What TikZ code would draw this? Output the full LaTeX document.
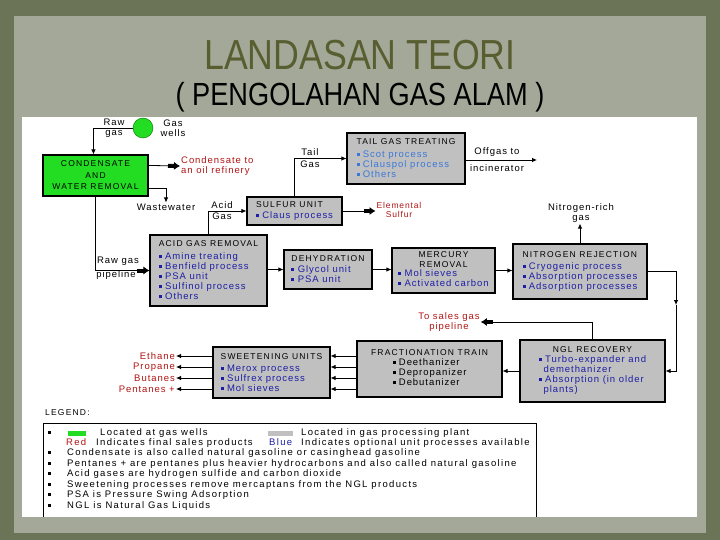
\documentclass[tikz,border=0pt]{standalone}
\usepackage{fontspec}
\setmainfont{Liberation Sans}
\newfontfamily\itemfam[LetterSpace=10]{Liberation Sans}
\newfontfamily\legfam[LetterSpace=14]{Liberation Sans}
\newfontfamily\capsfam[LetterSpace=14]{Liberation Sans}
\newfontfamily\titlefam[FakeStretch=0.85]{Liberation Sans}
\usetikzlibrary{arrows.meta}
\usetikzlibrary{positioning}
\definecolor{slideouter}{RGB}{108,116,88}
\definecolor{slidepaper}{RGB}{163,168,152}
\definecolor{titleolive}{RGB}{88,94,48}
\definecolor{unitgray}{RGB}{192,192,192}
\definecolor{wellgreen}{RGB}{34,221,34}
\definecolor{prodred}{RGB}{178,20,20}
\definecolor{optblue}{RGB}{30,30,165}
\definecolor{tailblue}{RGB}{60,120,215}
\newcommand{\itemsz}{\itemfam\fontsize{9.5}{10}\selectfont}
\newcommand{\legsz}{\legfam\fontsize{9.5}{10}\selectfont}
\newcommand{\capsz}{\capsfam\fontsize{8.5}{10}\selectfont}
\newcommand{\ut}[1]{{\capsz\color{black}#1}}
\newcommand{\bul}{\rule[0.15em]{0.32em}{0.32em}\hspace{0.35em}}
\newcommand{\itemlist}[1]{\begin{tabular}{@{}l@{}}#1\end{tabular}}
\tikzset{
    unitbox/.style = {draw=black, line width=1.1pt, fill=unitgray, inner sep=2.5pt, font=\itemsz, text=optblue},
    unitl/.style = {unitbox, align=left},
    unitc/.style = {unitbox, align=center},
    flow/.style = {line width=0.8pt, -{Latex[length=5pt,width=4.5pt]}},
    outflow/.style = {line width=0.8pt, -{Rectangle[length=6pt,width=4pt] Latex[length=6pt,width=8pt]}},
    plain/.style = {font=\itemsz, inner sep=1pt, align=center},
    product/.style = {plain, text=prodred},
    legend/.style = {font=\legsz, inner sep=0pt, anchor=west, text height=7pt, text depth=2pt}
}
\begin{document}
\begin{tikzpicture}[x=1pt,y=-1pt]
  \useasboundingbox (0,0) rectangle (720,540);
  % slide
  \fill[slideouter] (0,0) rectangle (720,540);
  \fill[slidepaper] (14,16) rectangle (706,533);
  \fill[white] (22,117) rectangle (697,517);
  \node[font=\titlefam\fontsize{42}{42}\selectfont, text=titleolive] (title) at (360,55) {LANDASAN TEORI};
  \node[font=\titlefam\fontsize{32}{32}\selectfont] (subtitle) at (360,97) {( PENGOLAHAN GAS ALAM )};

  % gas wells
  \node[circle, draw=green!45!black, fill=wellgreen, minimum size=20pt, inner sep=0pt] (wells) at (143,128) {};
  \node[plain] (rawlbl) at (114,128) {Raw\\gas};
  \node[plain] (wellslbl) at (173,128) {Gas\\wells};
  \node[unitc, fill=wellgreen, font=\capsfam\fontsize{8.5}{11.5}\selectfont, text=black,
        minimum width=105pt, minimum height=41pt] (cwr) at (95.5,175.5) {CONDENSATE\\AND\\WATER REMOVAL};
  \node[product, anchor=west, align=left] (condlbl) at (180,166) {Condensate to\\an oil refinery};
  \node[plain] (wwlbl) at (166,207) {Wastewater};
  \node[plain] (pipelbl) at (118,261) {Raw gas};
  \node[plain] (pipelbl2) at (116,275) {pipeline};

  % units
  \node[unitl, minimum width=117pt, minimum height=71pt] (agr) at (208.5,270.5)
    {\ut{ACID GAS REMOVAL}\\[3pt]\bul Amine treating\\\bul Benfield process\\\bul PSA unit\\\bul Sulfinol process\\\bul Others};
  \node[unitl, minimum width=95pt, minimum height=28pt] (sulfur) at (294.5,211)
    {\ut{SULFUR UNIT}\\[1pt]\bul Claus process};
  \node[unitl, text=tailblue, minimum width=118pt, minimum height=51pt] (tail) at (406,158.5)
    {\ut{TAIL GAS TREATING}\\[3pt]\bul Scot process\\\bul Clauspol process\\\bul Others};
  \node[unitl, minimum width=88pt, minimum height=39pt] (dehyd) at (328,269.5)
    {\ut{DEHYDRATION}\\[1pt]\bul Glycol unit\\\bul PSA unit};
  \node[unitc, minimum width=103pt, minimum height=45pt] (merc) at (443.5,270.5)
    {\ut{MERCURY}\\\ut{REMOVAL}\\\itemlist{\bul Mol sieves\\\bul Activated carbon}};
  \node[unitl, minimum width=134pt, minimum height=55pt] (nitro) at (580,271.5)
    {\ut{NITROGEN REJECTION}\\[2pt]\bul Cryogenic process\\\bul Absorption processes\\\bul Adsorption processes};
  \node[unitc, minimum width=145pt, minimum height=62pt] (ngl) at (592.5,371)
    {\ut{NGL RECOVERY}\\[2pt]\itemlist{\bul Turbo-expander and\\\hspace*{0.5em}demethanizer\\\bul Absorption (in older\\\hspace*{0.5em}plants)}};
  \node[unitc, text=black, minimum width=145pt, minimum height=56pt] (frac) at (429.5,369)
    {\ut{FRACTIONATION TRAIN}\\[1pt]\itemlist{\bul Deethanizer\\\bul Depropanizer\\\bul Debutanizer}};
  \node[unitl, minimum width=117pt, minimum height=51pt] (sweet) at (271.5,372.5)
    {\ut{SWEETENING UNITS}\\[2pt]\bul Merox process\\\bul Sulfrex process\\\bul Mol sieves};

  % labels on the streams
  \node[plain] (acidlbl) at (222,211) {Acid\\[1pt]Gas};
  \node[plain] (taillbl) at (310,158) {Tail\\[2pt]Gas};
  \node[plain] (offlbl) at (497,152) {Offgas to};
  \node[plain] (offlbl2) at (497,168) {incinerator};
  \coordinate (offend) at (537,160);
  \node[product, font=\itemfam\fontsize{8.5}{9}\selectfont] (sulfurlbl) at (399,210) {Elemental\\Sulfur};
  \node[plain] (n2lbl) at (581,213) {Nitrogen-rich\\gas};
  \node[product] (saleslbl) at (449,322) {To sales gas\\pipeline};
  \coordinate (nglturn) at (676,305);
  \node[product, anchor=east] (ethane) at (176,356) {Ethane};
  \node[product, anchor=east] (propane) at (176,367) {Propane};
  \node[product, anchor=east] (butanes) at (176,378) {Butanes};
  \node[product, anchor=east] (pentanes) at (176,389) {Pentanes +};

  % streams
  \draw[flow] (wells.west) -| ([xshift=51pt]cwr.north west);
  \draw[outflow] ([yshift=-11pt]cwr.north east) -- (condlbl.west |- 0,166);
  \draw[flow] ([yshift=8pt]cwr.south east) -| (wwlbl.north);
  \draw[outflow] (cwr.south) |- (agr.west);
  \draw[flow] (agr.north) |- (sulfur.west);
  \draw[flow] (sulfur.north) |- (tail.west);
  \draw[flow] (tail.east |- offend) -- (offend);
  \draw[outflow] (sulfur.east) -- (sulfurlbl.west |- sulfur.east);
  \draw[flow] (dehyd.west -| agr.east) -- (dehyd.west);
  \draw[flow] (dehyd.east) -- (dehyd.east -| merc.west);
  \draw[flow] (merc.east) -- (merc.east -| nitro.west);
  \draw[flow] (nitro.north) -- (nitro.north |- n2lbl.south);
  \draw[flow] (nitro.east) -| (nglturn);
  \draw[flow] (nglturn) |- (ngl.east);
  \draw[outflow] (ngl.north) |- (saleslbl.east);
  \draw[flow] (ngl.west) -- (ngl.west -| frac.east);
  \draw[flow] (frac.west |- ethane) -- (sweet.east |- ethane);
  \draw[flow] (frac.west |- propane) -- (sweet.east |- propane);
  \draw[flow] (frac.west |- butanes) -- (sweet.east |- butanes);
  \draw[flow] (frac.west |- pentanes) -- (sweet.east |- pentanes);
  \draw[flow] (sweet.west |- ethane) -- (ethane.east);
  \draw[flow] (sweet.west |- propane) -- (propane.east);
  \draw[flow] (sweet.west |- butanes) -- (butanes.east);
  \draw[flow] (sweet.west |- pentanes) -- (pentanes.east);

  % legend
  \node[legend, font=\capsz] (legendlbl) at (45,413) {LEGEND:};
  \draw[line width=0.8pt] (43,517) |- (536,423) -- (536,517);
  \node[legend] (lg1) at (48,433) {\bul};
  \fill[wellgreen] (68,431) rectangle (86,435.5);
  \node[legend] (lg1b) at (100,433) {Located at gas wells};
  \fill[unitgray] (268,431) rectangle (293,435.5);
  \node[legend] (lg1c) at (301,433) {Located in gas processing plant};
  \node[legend, text=prodred] (lg2) at (66,443) {Red};
  \node[legend] (lg2b) at (96,443) {Indicates final sales products};
  \node[legend, text=optblue] (lg2c) at (269,443) {Blue};
  \node[legend] (lg2d) at (301,443) {Indicates optional unit processes available};
  \node[legend] (lg3) at (48,453) {\makebox[19pt][l]{\bul}Condensate is also called natural gasoline or casinghead gasoline};
  \node[legend] (lg4) at (48,464) {\makebox[19pt][l]{\bul}Pentanes + are pentanes plus heavier hydrocarbons and also called natural gasoline};
  \node[legend] (lg5) at (48,474) {\makebox[19pt][l]{\bul}Acid gases are hydrogen sulfide and carbon dioxide};
  \node[legend] (lg6) at (48,485) {\makebox[19pt][l]{\bul}Sweetening processes remove mercaptans from the NGL products};
  \node[legend] (lg7) at (48,495) {\makebox[19pt][l]{\bul}PSA is Pressure Swing Adsorption};
  \node[legend] (lg8) at (48,506) {\makebox[19pt][l]{\bul}NGL is Natural Gas Liquids};
\end{tikzpicture}
\end{document}
